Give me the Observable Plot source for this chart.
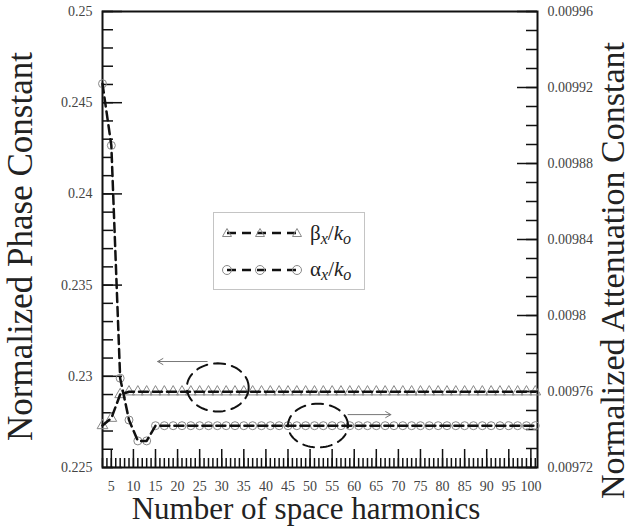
<!DOCTYPE html>
<html><head><meta charset="utf-8">
<script src="https://cdn.jsdelivr.net/npm/d3@7"></script>
<script src="https://cdn.jsdelivr.net/npm/@observablehq/plot@0.6"></script>
<style>
body{margin:0;background:#fff;}
#wrap{position:relative;width:632px;height:532px;}
#legend{position:absolute;left:213px;top:212px;}
</style></head><body><div id="wrap"></div>
<script>
// number of space harmonics (markers at odd counts)
const harmonics = [3,5,7,9,11,13,15,17,19,21,23,25,27,29,31,33,35,37,39,41,43,45,47,49,51,53,55,57,59,61,63,65,67,69,71,73,75,77,79,81,83,85,87,89,91,93,95,97,99,101];
// normalized phase constant beta_x/k_o (left axis)
const betaNorm = [0.2273,0.2277,0.2290,0.22915,0.22915,0.22915,0.22915,0.22915,0.22915,0.22915,
  0.22915,0.22915,0.22915,0.22915,0.22915,0.22915,0.22915,0.22915,0.22915,0.22915,
  0.22915,0.22915,0.22915,0.22915,0.22915,0.22915,0.22915,0.22915,0.22915,0.22915,
  0.22915,0.22915,0.22915,0.22915,0.22915,0.22915,0.22915,0.22915,0.22915,0.22915,
  0.22915,0.22915,0.22915,0.22915,0.22915,0.22915,0.22915,0.22915,0.22915,0.22915];
// normalized attenuation constant alpha_x/k_o (right axis)
const alphaNorm = [0.009922,0.0098895,0.009767,0.009745,0.009734,0.009734,0.009742,0.009742,0.009742,0.009742,
  0.009742,0.009742,0.009742,0.009742,0.009742,0.009742,0.009742,0.009742,0.009742,0.009742,
  0.009742,0.009742,0.009742,0.009742,0.009742,0.009742,0.009742,0.009742,0.009742,0.009742,
  0.009742,0.009742,0.009742,0.009742,0.009742,0.009742,0.009742,0.009742,0.009742,0.009742,
  0.009742,0.009742,0.009742,0.009742,0.009742,0.009742,0.009742,0.009742,0.009742,0.009742];
// tick labels
const xTickLabels = [5,10,15,20,25,30,35,40,45,50,55,60,65,70,75,80,85,90,95,100];
const leftTickLabels = [0.225,0.23,0.235,0.24,0.245,0.25];
const rightTickValues = [0.00972,0.00976,0.0098,0.00984,0.00988,0.00992,0.00996];
const rightTickLabels = ["0.00972","0.00976","0.0098","0.00984","0.00988","0.00992","0.00996"];
// annotations (data coordinates)
const ellipses = [{n:29.1, v:0.22939, rn:7.0, rv:0.00132},{n:51.8, v:0.2273, rn:6.8, rv:0.0012}];
const arrows = [{x1:26.7, x2:15.5, y:0.23081},{x1:58.6, x2:68.3, y:0.2279}];

const xDomain = [3, 101.5];
const leftDomain = [0.225, 0.25];
const rightDomain = [0.00972, 0.00996];
const toLeft = v => leftDomain[0] + (v - rightDomain[0]) / (rightDomain[1] - rightDomain[0]) * (leftDomain[1] - leftDomain[0]);

const rows = harmonics.map((n, i) => ({n, beta: betaNorm[i], alpha: toLeft(alphaNorm[i])}));
const rightPos = rightTickValues.map(toLeft);
const rightLabelMap = new Map(rightPos.map((p, i) => [p, rightTickLabels[i]]));
const xMinor = d3.range(3, 102);
const leftMinor = d3.range(0, 26).map(i => 0.225 + i * 0.001);
const rightMinor = d3.range(0, 25).map(i => toLeft(0.00972 + i * 0.00001));

const ellipsePts = ellipses.map(e => d3.range(0, 73).map(k => {
  const t = k / 72 * 2 * Math.PI;
  return {n: e.n + e.rn * Math.cos(t), v: e.v + e.rv * Math.sin(t)};
}));

const W = 632, H = 532, mL = 102, mR = 95, mT = 11, mB = 65;
const frameW = W - mL - mR, frameH = H - mT - mB;
// pixel lengths of inward ticks converted to data units
const yPerPx = (leftDomain[1] - leftDomain[0]) / frameH;
const xPerPx = (xDomain[1] - xDomain[0]) / frameW;
const font = "'Liberation Serif', 'Times New Roman', serif";
const tk = {stroke: "#111", strokeWidth: 1.5};
const textOpts = {label: null, tickSize: 0, fill: "#444", stroke: "none", fontSize: 14, fontFamily: font};

const plot = Plot.plot({
  width: W, height: H,
  marginLeft: mL, marginRight: mR, marginTop: mT, marginBottom: mB,
  style: {fontFamily: font, background: "white"},
  x: {domain: xDomain},
  y: {domain: leftDomain},
  marks: [
    // inward ticks
    Plot.ruleX(xMinor, {x: d => d, y1: leftDomain[0], y2: leftDomain[0] + 9 * yPerPx, ...tk}),
    Plot.ruleX(xTickLabels, {x: d => d, y1: leftDomain[0], y2: leftDomain[0] + 18 * yPerPx, ...tk}),
    Plot.ruleY(leftMinor, {y: d => d, x1: xDomain[0], x2: xDomain[0] + 11 * xPerPx, ...tk}),
    Plot.ruleY(leftTickLabels, {y: d => d, x1: xDomain[0], x2: xDomain[0] + 20 * xPerPx, ...tk}),
    Plot.ruleY(rightMinor, {y: d => d, x1: xDomain[1] - 11 * xPerPx, x2: xDomain[1], ...tk}),
    Plot.ruleY(rightPos, {y: d => d, x1: xDomain[1] - 20 * xPerPx, x2: xDomain[1], ...tk}),
    // tick labels
    Plot.axisX(xTickLabels, {...textOpts, anchor: "bottom", tickPadding: 14, tickFormat: d => String(d)}),
    Plot.axisY(leftTickLabels, {...textOpts, anchor: "left", tickPadding: 10, tickFormat: d => String(d)}),
    Plot.axisY(rightPos, {...textOpts, anchor: "right", tickPadding: 10, tickFormat: d => rightLabelMap.get(d)}),
    Plot.frame({stroke: "#111", strokeWidth: 2}),
    // data
    Plot.dot(rows, {x: "n", y: "beta", symbol: "triangle", r: 4, stroke: "#888", fill: "none", strokeWidth: 1}),
    Plot.dot(rows, {x: "n", y: "alpha", symbol: "circle", r: 4, stroke: "#888", fill: "none", strokeWidth: 1}),
    Plot.line(rows, {x: "n", y: "beta", stroke: "#111", strokeWidth: 2.5, strokeDasharray: "9,5"}),
    Plot.line(rows, {x: "n", y: "alpha", stroke: "#111", strokeWidth: 2.5, strokeDasharray: "9,5"}),
    // annotations
    ...ellipsePts.map(pts => Plot.line(pts, {x: "n", y: "v", stroke: "#111", strokeWidth: 2, strokeDasharray: "11,7"})),
    Plot.arrow(arrows, {x1: "x1", x2: "x2", y1: "y", y2: "y", stroke: "#777", strokeWidth: 1, headLength: 9}),
    // axis titles
    Plot.text(["Normalized Phase Constant"], {frameAnchor: "left", textAnchor: "middle", rotate: -90, dx: -82, dy: 7, fontSize: 35, fill: "#222", fontFamily: font}),
    Plot.text(["Normalized Attenuation Constant"], {frameAnchor: "right", textAnchor: "middle", rotate: -90, dx: 76, dy: 31, fontSize: 34, fill: "#222", fontFamily: font}),
    Plot.text(["Number of space harmonics"], {frameAnchor: "bottom", textAnchor: "middle", dx: -14, dy: 51, fontSize: 31, fill: "#222", fontFamily: font})
  ]
});

const wrap = document.getElementById("wrap");
wrap.appendChild(plot);

// legend
const legend = document.createElement("div");
legend.id = "legend";
legend.innerHTML = `
<svg width="152" height="78" style="font-family:'Liberation Serif', serif">
  <rect x="0.5" y="0.5" width="151" height="77" fill="white" stroke="#c4c4c4"/>
  <line x1="14" x2="84" y1="21" y2="21" stroke="#111" stroke-width="2.5" stroke-dasharray="9,6"/>
  <path d="M14,16.5L18.5,24.5H9.5Z M47,16.5L51.5,24.5H42.5Z M84,16.5L88.5,24.5H79.5Z" fill="none" stroke="#888"/>
  <text x="97" y="28" font-size="21" fill="#222">β<tspan dy="4" font-size="16" font-style="italic">x</tspan><tspan dy="-4">/</tspan><tspan font-style="italic">k</tspan><tspan dy="4" font-size="16" font-style="italic">o</tspan></text>
  <line x1="14" x2="84" y1="58" y2="58" stroke="#111" stroke-width="2.5" stroke-dasharray="9,6"/>
  <circle cx="14" cy="58" r="4.5" fill="none" stroke="#888"/>
  <circle cx="47" cy="58" r="4.5" fill="none" stroke="#888"/>
  <circle cx="84" cy="58" r="4.5" fill="none" stroke="#888"/>
  <text x="97" y="64" font-size="21" fill="#222">α<tspan dy="4" font-size="16" font-style="italic">x</tspan><tspan dy="-4">/</tspan><tspan font-style="italic">k</tspan><tspan dy="4" font-size="16" font-style="italic">o</tspan></text>
</svg>`;
wrap.appendChild(legend);
</script>
</body></html>
